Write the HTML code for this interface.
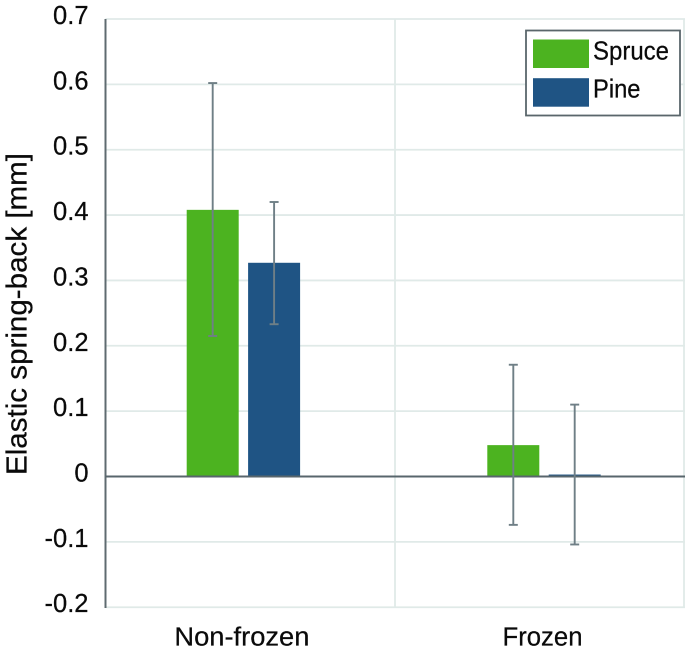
<!DOCTYPE html>
<html>
<head>
<meta charset="utf-8">
<style>
html,body{margin:0;padding:0;background:#fff;width:685px;height:655px;overflow:hidden}
svg{display:block}
text{font-family:"Liberation Sans",sans-serif;fill:#0a0a0a;stroke:#0a0a0a;stroke-width:0.25px}
</style>
</head>
<body>
<svg id="chart" width="685" height="655" viewBox="0 0 685 655" xmlns="http://www.w3.org/2000/svg"></svg>
<script>
const categories = ["Non-frozen", "Frozen"];
const seriesNames = ["Spruce", "Pine"];
const spruceValues = [0.408, 0.048];
const pineValues = [0.327, 0.003];
const spruceErrorHigh = [0.602, 0.171];
const spruceErrorLow = [0.215, -0.074];
const pineErrorHigh = [0.42, 0.11];
const pineErrorLow = [0.233, -0.104];
const yTicks = [-0.2, -0.1, 0, 0.1, 0.2, 0.3, 0.4, 0.5, 0.6, 0.7];

const svg = document.getElementById('chart');
const NS = 'http://www.w3.org/2000/svg';
const colors = ['#4cb320', '#1f5484'];
const yTop = 19, yZero = 476.5, yBottom = 607;
const plotLeft = 105.5, plotRight = 684;

function yScale(v) { return yZero - v * (yZero - yTop) / 0.7; }
function groupX(i) { return 243.4 + i * 300.6; }
function barX(i, s) { return groupX(i) + (s === 0 ? -30.7 : 30.7); }
function make(tag, props, parent) {
  const el = document.createElementNS(NS, tag);
  for (const k in props) el.setAttribute(k, props[k]);
  (parent || svg).appendChild(el);
  return el;
}
function slug(s) { return String(s).toLowerCase().replace(/[^a-z0-9]+/g, '-'); }

// gridlines
yTicks.forEach(function (t) {
  if (t === 0) return;
  const g = make('line', { x1: plotLeft, x2: plotRight + 1, y1: yScale(t), y2: yScale(t), stroke: '#e0eae8', 'stroke-width': 1.8 });
  
  
});
const midLine = make('line', { x1: 395, x2: 395, y1: yTop, y2: yBottom, stroke: '#e0eae8', 'stroke-width': 1.8 });


const rightLine = make('line', { x1: plotRight, x2: plotRight, y1: yTop, y2: yBottom, stroke: '#e0eae8', 'stroke-width': 1.8 });



// bars
[spruceValues, pineValues].forEach(function (vals, s) {
  vals.forEach(function (v, i) {
    const top = Math.min(yScale(v), yZero);
    const h = Math.abs(yScale(v) - yZero);
    const b = make('rect', { x: barX(i, s) - 26, y: top, width: 52, height: h, fill: colors[s] });
    
    
  });
});

// axes
const yAxis = make('line', { x1: plotLeft, x2: plotLeft, y1: yTop, y2: yBottom + 1, stroke: '#5f6b70', 'stroke-width': 2 });


const zeroLine = make('line', { x1: plotLeft, x2: 685, y1: yZero, y2: yZero, stroke: '#58666c', 'stroke-width': 2 });



// error bars
[[spruceErrorLow, spruceErrorHigh], [pineErrorLow, pineErrorHigh]].forEach(function (pair, s) {
  categories.forEach(function (c, i) {
    const x = barX(i, s);
    const yHi = yScale(pair[1][i]);
    const yLo = yScale(pair[0][i]);
    const g = make('g', { stroke: '#6f7f86', 'stroke-width': 1.9, fill: 'none' });
    
    
    make('line', { x1: x, x2: x, y1: yHi, y2: yLo }, g);
    make('line', { x1: x - 4.5, x2: x + 4.5, y1: yHi, y2: yHi }, g);
    make('line', { x1: x - 4.5, x2: x + 4.5, y1: yLo, y2: yLo }, g);
  });
});

// y tick labels
yTicks.forEach(function (t) {
  const el = make('text', { x: 88.5, y: yScale(t) + 5, 'text-anchor': 'end', 'font-size': 25.5 });
  el.textContent = String(t);
  
  
});

// category labels
const catWidths = [135, 80];
categories.forEach(function (c, i) {
  const el = make('text', { x: groupX(i) - 1.5, y: 645.5, 'text-anchor': 'middle', 'font-size': 25.5, textLength: catWidths[i], lengthAdjust: 'spacingAndGlyphs' });
  el.textContent = c;
  
  
});

// y axis title
const yTitle = make('text', { transform: 'translate(26.5,314) rotate(-90)', 'text-anchor': 'middle', 'font-size': 29, textLength: 322, lengthAdjust: 'spacingAndGlyphs' });
yTitle.textContent = 'Elastic spring-back [mm]';



// legend
const legend = make('g', {});


const legendBox = make('rect', { x: 526, y: 30.5, width: 154, height: 85, fill: '#fff', stroke: '#5a666b', 'stroke-width': 1.8 }, legend);


seriesNames.forEach(function (n, s) {
  const row = make('g', {}, legend);
  
  
  make('rect', { x: 533, y: 39.5 + s * 38.7, width: 56, height: 28.5, fill: colors[s] }, row);
  const label = make('text', { x: 593, y: 59.3 + s * 38, 'font-size': 26, textLength: s === 0 ? 76 : 47.5, lengthAdjust: 'spacingAndGlyphs' }, row);
  label.textContent = n;
});
</script>
</body>
</html>
